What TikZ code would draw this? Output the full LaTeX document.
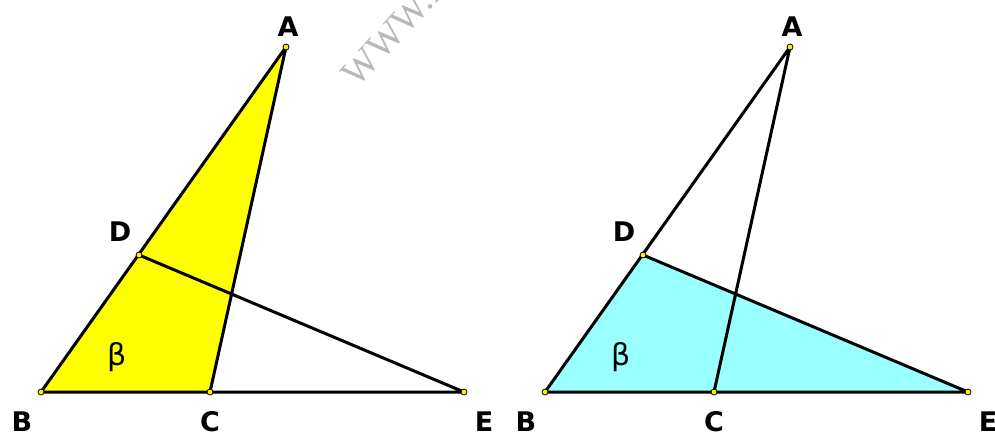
\documentclass[tikz,border=0pt]{standalone}
\usepackage{fontspec}
\setmainfont{DejaVu Sans}
\newfontfamily\wmfont{Liberation Serif}
\usepackage{tikz}
\usepackage{xcolor}
\definecolor{paleyellow}{RGB}{255,255,0}
\definecolor{palecyan}{RGB}{153,255,255}

\begin{document}
\begin{tikzpicture}[x=0.5pt,y=-0.5pt,line width=1.5pt,line join=round,
  lbl/.style={font=\bfseries\fontsize{13.5}{13.5}\selectfont},
  ang/.style={font=\fontsize{15}{15}\selectfont},
  vtx/.style={fill=yellow,draw=black,line width=0.4pt}]
\useasboundingbox (0,0) rectangle (995,436);
\node[rotate=47,anchor=base west,text=black!28,font=\wmfont\fontsize{19}{19}\selectfont] (wm) at (352,94) {WWW.m};
% two figures, same points shifted by 504
\foreach \s/\n in {0/1,504/2} {
  \coordinate (A\n) at (286+\s,47);
  \coordinate (B\n) at (41+\s,392);
  \coordinate (C\n) at (210+\s,392);
  \coordinate (D\n) at (139+\s,255);
  \coordinate (E\n) at (464+\s,392);
}
\fill[paleyellow] (A1)--(B1)--(C1)--cycle;
\fill[palecyan] (D2)--(B2)--(E2)--cycle;
\foreach \n in {1,2} {
  \draw (A\n)--(B\n)--(E\n)--(D\n) (A\n)--(C\n);
  \foreach \p in {A,B,C,D,E} {\fill[vtx] (\p\n) circle (1.5pt);}
}
\foreach \s/\n in {0/1,504/2} {
  \node[lbl] (lA\n) at (288+\s,27) {A};
  \node[lbl] (lB\n) at (22+\s,422) {B};
  \node[lbl] (lC\n) at (210+\s,422) {C};
  \node[lbl] (lD\n) at (120+\s,232) {D};
  \node[lbl] (lE\n) at (484+\s,422) {E};
  \node[ang] (beta\n) at (117+\s,357) {β};
}
\end{tikzpicture}
\end{document}
